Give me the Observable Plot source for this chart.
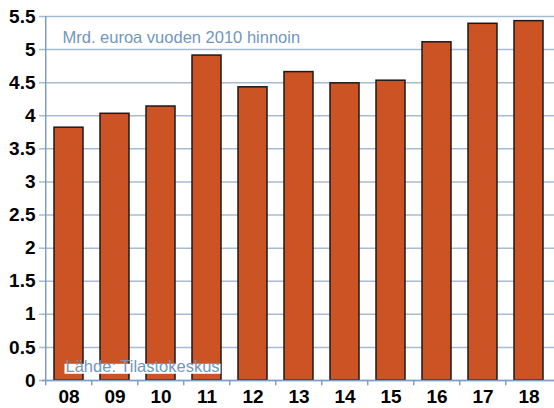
<!DOCTYPE html>
<html><head><meta charset="utf-8">
<script src="https://cdn.jsdelivr.net/npm/d3@7"></script>
<script src="https://cdn.jsdelivr.net/npm/@observablehq/plot@0.6"></script>
<style>body{margin:0;background:#fff}</style>
</head><body><div id="chart"></div>
<script>
const years = ["08","09","10","11","12","13","14","15","16","17","18"];
const values = [3.82,4.03,4.14,4.91,4.43,4.66,4.49,4.53,5.11,5.39,5.43];
const yTicks = [0,0.5,1,1.5,2,2.5,3,3.5,4,4.5,5,5.5];
const yTickLabels = ["0","0.5","1","1.5","2","2.5","3","3.5","4","4.5","5","5.5"];
const subtitle = "Mrd. euroa vuoden 2010 hinnoin";
const source = "Lähde: Tilastokeskus";

const data = years.map((y,i)=>({year:y, value:values[i]}));
const W = 554, ML = 42, MR = 0;
const step = (W - ML - MR) / years.length;
const gridColor = "#a7bbd3";
const axisColor = "#7f9ec4";
const textBlue = "#7196bf";
const FONT = "Liberation Sans, Arial, sans-serif";

const chart = Plot.plot({
  width: W, height: 408,
  marginLeft: ML, marginRight: MR, marginTop: 16, marginBottom: 28,
  style: {fontFamily: FONT, background: "#fff", overflow: "visible"},
  x: {type: "band", domain: years, paddingInner: 0.377, paddingOuter: 0.1885, axis: null, label: null},
  y: {domain: [0, 5.5], axis: null, label: null},
  marks: [
    Plot.ruleY(yTicks, {stroke: gridColor, strokeWidth: 1.5}),
    Plot.axisY(yTicks, {tickSize: 3, tickPadding: 4, stroke: gridColor, strokeWidth: 1.5, label: null,
      tickFormat: d => yTickLabels[yTicks.indexOf(d)], fontSize: 19, fill: "#000"}),
    Plot.ruleX([years[0]], {x: d => d, dx: -step/2, y1: 0, y2: 5.5, stroke: axisColor, strokeWidth: 1.5}),
    Plot.barY(data, {x: "year", y: "value", fill: "#cc5324", stroke: "#1a1a1a", strokeWidth: 1.5}),
    Plot.ruleY([0], {stroke: axisColor, strokeWidth: 1.5}),
    Plot.ruleX(years, {x: d => d, dx: -step/2, y1: 0, y2: -0.08, stroke: axisColor, strokeWidth: 1.5}),
    Plot.axisX(years, {tickSize: 0, tickPadding: 9, fontSize: 19, fill: "#000", label: null}),
    Plot.text([subtitle], {frameAnchor: "top-left", dx: 20, dy: 21.5, textAnchor: "start", lineAnchor: "middle",
      fill: textBlue, fontSize: 16.5}),
    Plot.text([source], {frameAnchor: "bottom-left", dx: 23, dy: -14, textAnchor: "start", lineAnchor: "middle",
      fill: textBlue, fontSize: 16.5})
  ]
});
document.getElementById("chart").appendChild(chart);
chart.querySelectorAll('[aria-label="y-axis tick label"], [aria-label="x-axis tick label"]').forEach(g => {
  g.setAttribute("font-weight", "bold");
  g.querySelectorAll("text").forEach(t => t.setAttribute("font-weight", "bold"));
});
// white label box behind source text
const srcText = Array.from(chart.querySelectorAll("text")).find(t => t.textContent === source);
if (srcText) {
  const bb = srcText.getBBox();
  let w = bb.width;
  if (!w) {
    const ctx = document.createElement("canvas").getContext("2d");
    ctx.font = "16.5px " + FONT;
    w = ctx.measureText(source).width;
  }
  const ctm = srcText.getCTM();
  const x0 = bb.width ? bb.x : 0, yc = bb.height ? bb.y + bb.height / 2 : 0;
  const rect = document.createElementNS("http://www.w3.org/2000/svg", "rect");
  rect.setAttribute("x", x0 - 1);
  rect.setAttribute("y", yc - 2);
  rect.setAttribute("width", w + 2);
  rect.setAttribute("height", 10);
  rect.setAttribute("fill", "#fff");
  if (srcText.getAttribute("transform")) rect.setAttribute("transform", srcText.getAttribute("transform"));
  srcText.parentNode.insertBefore(rect, srcText);
}
</script>
</body></html>
